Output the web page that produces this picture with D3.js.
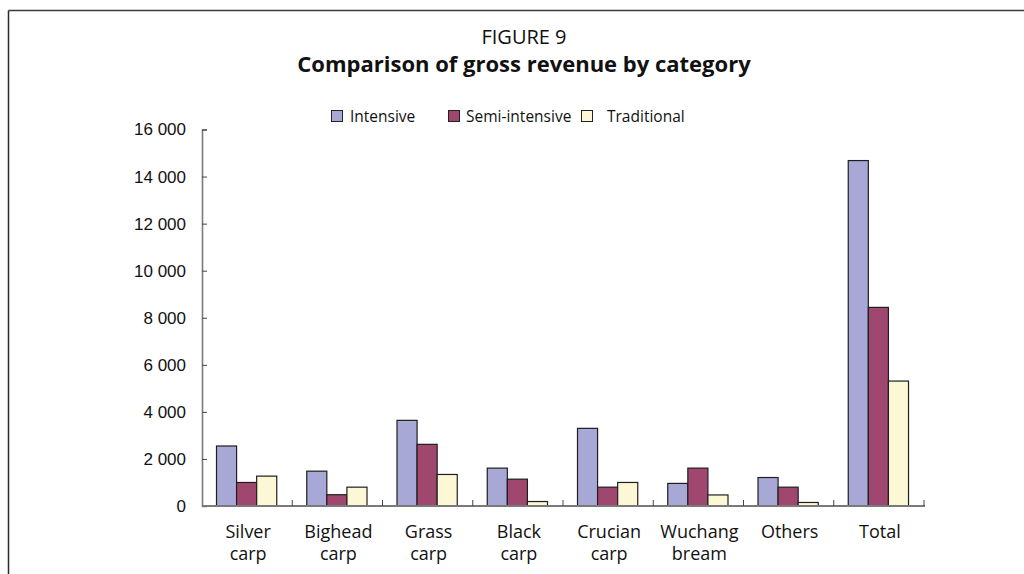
<!DOCTYPE html>
<html>
<head>
<meta charset="utf-8">
<script src="https://cdn.jsdelivr.net/npm/d3@7"></script>
<style>
  html, body { margin: 0; padding: 0; background: #fff; }
  svg { display: block; }
</style>
</head>
<body>
<svg id="chart" width="1024" height="574"></svg>
<script>
// Gross revenue by fish category and farming system
const categories = ["Silver carp", "Bighead carp", "Grass carp", "Black carp",
                    "Crucian carp", "Wuchang bream", "Others", "Total"];
const seriesNames = ["Intensive", "Semi-intensive", "Traditional"];
const intensive     = [2550, 1480, 3640, 1610, 3300, 960, 1210, 14680];
const semiIntensive = [1000,  480, 2620, 1140,  800, 1610, 800, 8440];
const traditional   = [1270,  800, 1340,  190, 1000,  470, 150, 5310];
const yTicks = [0, 2000, 4000, 6000, 8000, 10000, 12000, 14000, 16000];
const seriesColors = ["#a7a8d6", "#a0476f", "#fcf8d6"];

const seriesValues = [intensive, semiIntensive, traditional];

const svg = d3.select("#chart");
const labelFont = "'Open Sans', 'Noto Sans', sans-serif";
const tickFont = "'Liberation Sans', Arial, sans-serif";

// Outer frame: top rule and left rule
svg.append("line").attr("x1", 8.5).attr("x2", 1024).attr("y1", 10.5).attr("y2", 10.5)
  .attr("stroke", "#3a3a3a").attr("stroke-width", 1.5);
svg.append("line").attr("x1", 8.5).attr("x2", 8.5).attr("y1", 10.5).attr("y2", 574)
  .attr("stroke", "#2a2a2a").attr("stroke-width", 1.5);

// Titles
svg.append("text").attr("x", 524).attr("y", 44).attr("text-anchor", "middle")
  .attr("font-family", labelFont).attr("font-size", 20).attr("fill", "#111")
  .text("FIGURE 9");
svg.append("text").attr("x", 524).attr("y", 72).attr("text-anchor", "middle")
  .attr("font-family", labelFont).attr("font-size", 22).attr("font-weight", "bold").attr("fill", "#111")
  .text("Comparison of gross revenue by category");

// Scales
const x0 = d3.scaleBand().domain(categories).range([202, 924]).padding(0);
const x1 = d3.scaleBand().domain(seriesNames).range([14.5, x0.bandwidth() - 15.5]).padding(0);
const y = d3.scaleLinear().domain([0, 16000]).range([506, 129.5]);
const fmt = d3.formatLocale({ decimal: ".", thousands: " ", grouping: [3], currency: ["", ""] }).format(",");

// Bars
const groups = svg.append("g").selectAll("g")
  .data(categories)
  .join("g")
  .attr("transform", d => `translate(${x0(d)},0)`);

groups.selectAll("rect")
  .data((c, ci) => seriesNames.map((s, si) => ({ s, si, v: seriesValues[si][ci] })))
  .join("rect")
  .attr("x", d => x1(d.s))
  .attr("y", d => y(d.v))
  .attr("width", x1.bandwidth())
  .attr("height", d => y(0) - y(d.v))
  .attr("fill", d => seriesColors[d.si])
  .attr("stroke", "#1e1e1e")
  .attr("stroke-width", 1.2);

// Y axis
const yAxis = d3.axisRight(y).tickValues(yTicks).tickSize(5).tickFormat(fmt);
const yG = svg.append("g").attr("transform", "translate(202,0)").call(yAxis);
yG.select(".domain").attr("stroke", "#7a7a7a").attr("stroke-width", 1.6);
yG.selectAll(".tick line").attr("stroke", "#444").attr("stroke-width", 1);
yG.selectAll(".tick text")
  .attr("x", -16).attr("text-anchor", "end")
  .attr("font-family", tickFont).attr("font-size", 17).attr("fill", "#111");

// X axis: baseline with upward ticks at category boundaries
const xAxisG = svg.append("g");
xAxisG.append("line").attr("x1", 202).attr("x2", 925).attr("y1", y(0)).attr("y2", y(0))
  .attr("stroke", "#7a7a7a").attr("stroke-width", 1.8);
xAxisG.selectAll("line.tick")
  .data(categories)
  .join("line")
  .attr("class", "tick")
  .attr("x1", d => x0(d) + x0.bandwidth()).attr("x2", d => x0(d) + x0.bandwidth())
  .attr("y1", y(0)).attr("y2", y(0) - 6)
  .attr("stroke", "#444").attr("stroke-width", 1);

// Category labels (two lines)
const labels = svg.append("g").selectAll("text")
  .data(categories)
  .join("text")
  .attr("text-anchor", "middle")
  .attr("font-family", labelFont).attr("font-size", 18).attr("fill", "#111")
  .attr("transform", d => `translate(${x0(d) + x0.bandwidth() / 2 + 1},538)`);
labels.selectAll("tspan")
  .data(d => d.split(" "))
  .join("tspan")
  .attr("x", 0)
  .attr("dy", (d, i) => i === 0 ? 0 : 22)
  .text(d => d);

// Legend
const legendX = [331, 448, 581];
const legendTextX = [350, 466, 607];
const legend = svg.append("g").selectAll("g")
  .data(seriesNames)
  .join("g");
legend.append("rect")
  .attr("x", (d, i) => legendX[i] + 0.5).attr("y", 110.5)
  .attr("width", 11).attr("height", 11)
  .attr("fill", (d, i) => seriesColors[i])
  .attr("stroke", "#222").attr("stroke-width", 1);
legend.append("text")
  .attr("x", (d, i) => legendTextX[i]).attr("y", 122)
  .attr("font-family", labelFont).attr("font-size", 15.5).attr("fill", "#111")
  .text(d => d);
</script>
</body>
</html>
